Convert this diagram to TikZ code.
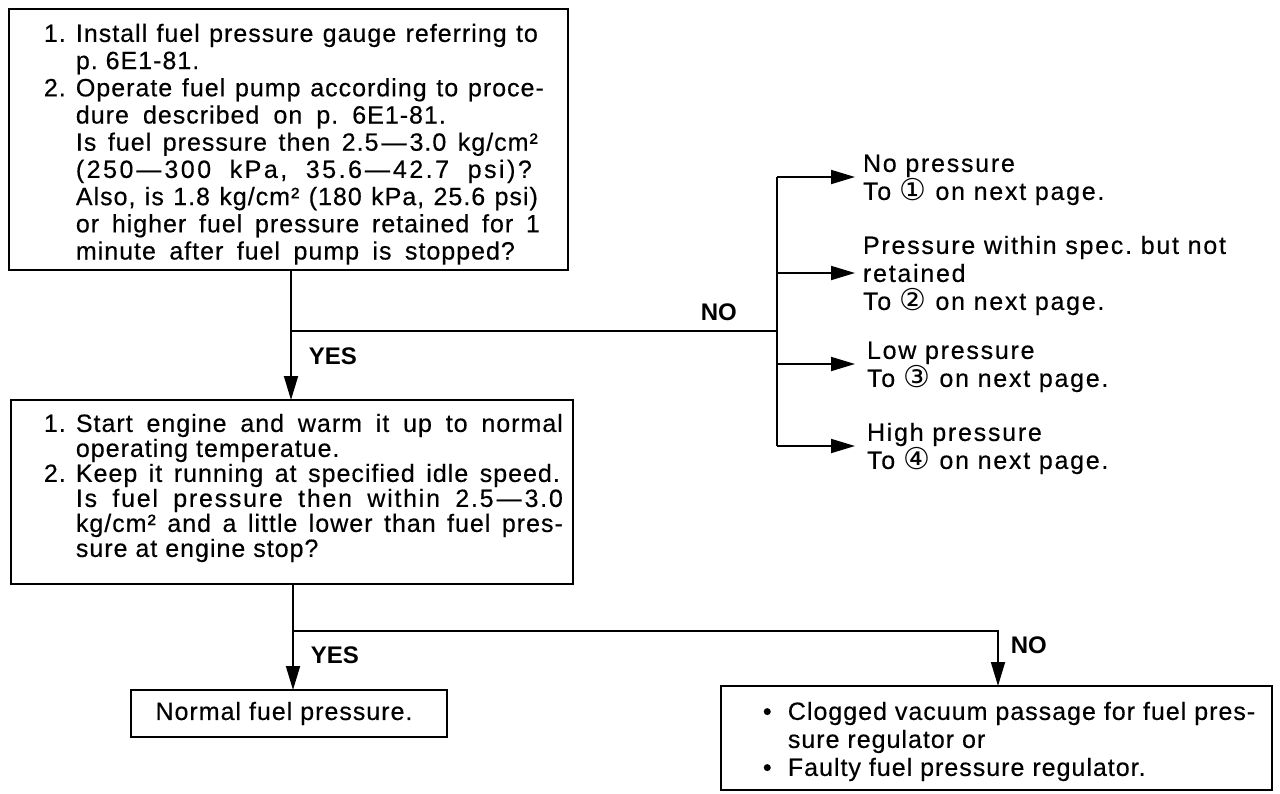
\documentclass[tikz,border=0pt]{standalone}
\usepackage{fontspec}
\usepackage{graphicx}
\setmainfont{Liberation Sans}
\newfontfamily\bodyfont[LetterSpace=4,FakeBold=0.4]{Liberation Sans}
\newfontfamily\labelfont[LetterSpace=7,FakeBold=0.4]{Liberation Sans}
\newfontfamily\circfont{DejaVu Sans}
\usetikzlibrary{arrows.meta}
\frenchspacing
\newcommand{\circnum}[1]{\raisebox{-1pt}{\scalebox{1.2}{\circfont #1}}}
\newcommand{\hang}{\hspace*{32pt}}
\newcommand{\itemno}[1]{\makebox[32pt][l]{#1}}
% a line spread to a given width, as in justified setting
\newcommand{\jline}[2]{\makebox[#1][s]{#2}}
\newcommand{\rng}{\kern3pt—\kern3pt}

\begin{document}
\begin{tikzpicture}[x=1pt,y=-1pt,
  line width=1.8pt,
  frame/.style={draw, line width=1.8pt, anchor=north west, inner sep=0pt, outer sep=0pt},
  body/.style={anchor=north west, inner sep=0pt, align=left,
    font=\bodyfont\fontsize{25}{27.2}\selectfont},
  branch/.style={anchor=west, inner xsep=8pt, inner ysep=0pt, outer sep=0pt, align=left,
    font=\labelfont\fontsize{25}{28}\selectfont},
  answer/.style={anchor=base west, inner sep=0pt, font=\bfseries\fontsize{24}{24}\selectfont},
  arr/.style={-{Triangle[length=24pt,width=14pt]}},
]
\useasboundingbox (0,0) rectangle (1280,793);

% first check: pressure with pump running and after stop
\node[frame, minimum width=559pt, minimum height=261pt] (q1) at (9,9) {};
\node[body] (q1text) at (43,22) {\rule{0pt}{19pt}\jline{494pt}{\itemno{1.}Install fuel pressure gauge referring to}\\
\hang p. 6E1-81.\\
\jline{500pt}{\itemno{2.}Operate fuel pump according to proce-}\\
\hang\jline{370pt}{dure described on p. 6E1-81.}\\
\hang\jline{462pt}{Is fuel pressure then 2.5\rng 3.0 kg/cm²}\\
\hang\jline{456pt}{\addfontfeatures{LetterSpace=10}(250\rng 300 kPa, 35.6\rng 42.7 psi)?}\\
\hang\jline{462pt}{Also, is 1.8 kg/cm² (180 kPa, 25.6 psi)}\\
\hang\jline{464pt}{or higher fuel pressure retained for 1}\\
\hang\jline{439pt}{minute after fuel pump is stopped?}};

% second check: pressure at idle
\node[frame, minimum width=562pt, minimum height=184pt] (q2) at (11,400) {};
\node[body, font=\bodyfont\fontsize{25}{25}\selectfont] (q2text) at (43,412) {\rule{0pt}{19pt}\jline{519pt}{\itemno{1.}Start engine and warm it up to normal}\\
\hang operating temperatue.\\
\jline{516pt}{\itemno{2.}Keep it running at specified idle speed.}\\
\hang\jline{487pt}{\addfontfeatures{LetterSpace=7}Is fuel pressure then within 2.5\rng 3.0}\\
\hang\jline{487pt}{kg/cm² and a little lower than fuel pres-}\\
\hang sure at engine stop?};

% results
\node[frame, minimum width=316pt, minimum height=47pt, font=\bodyfont\fontsize{25}{27}\selectfont] (ok) at (131,690) {Normal fuel pressure.\hspace*{10pt}};

\node[frame, minimum width=551pt, minimum height=104pt] (fix) at (721,686) {};
\node[body, font=\bodyfont\fontsize{25}{28}\selectfont] (fixtext) at (762,700) {\rule{0pt}{19pt}\makebox[25pt][l]{•}Clogged vacuum passage for fuel pres-\\
\hspace*{25pt}sure regulator or\\
\makebox[25pt][l]{•}Faulty fuel pressure regulator.};

% branch targets of the first check
\node[branch] (r1) at (855,177) {\rule{0pt}{23pt}No pressure\\To \circnum{①} on next page.};
\node[branch] (r2) at (855,273) {\rule{0pt}{23pt}Pressure within spec. but not\\retained\\To \circnum{②} on next page.};
\node[branch, inner xsep=12pt] (r3) at (855,364) {\rule{0pt}{23pt}Low pressure\\To \circnum{③} on next page.};
\node[branch, inner xsep=12pt] (r4) at (855,446) {\rule{0pt}{23pt}High pressure\\To \circnum{④} on next page.};

% junctions
\coordinate (j1) at (291,331);
\coordinate (j2) at (777,331);
\coordinate (j3) at (293,631);
\coordinate (j4) at (998,631);

% connectors
\draw[arr] (q1.south -| j1) -- (q2.north -| j1);
\draw (j1) -- (j2);
\draw (j2 |- r1.west) -- (j2 |- r4.west);
\foreach \r in {r1,r2,r3,r4} \draw[arr] (j2 |- \r.west) -- (\r.west);
\draw[arr] (q2.south -| j3) -- (ok.north -| j3);
\draw[arr] (j3) -- (j4) -- (fix.north -| j4);

% answer labels
\node[answer] (no1) at (700,320) {NO};
\node[answer] (yes1) at (308,364) {YES};
\node[answer] (yes2) at (310,663) {YES};
\node[answer] (no2) at (1010,653) {NO};
\end{tikzpicture}
\end{document}
